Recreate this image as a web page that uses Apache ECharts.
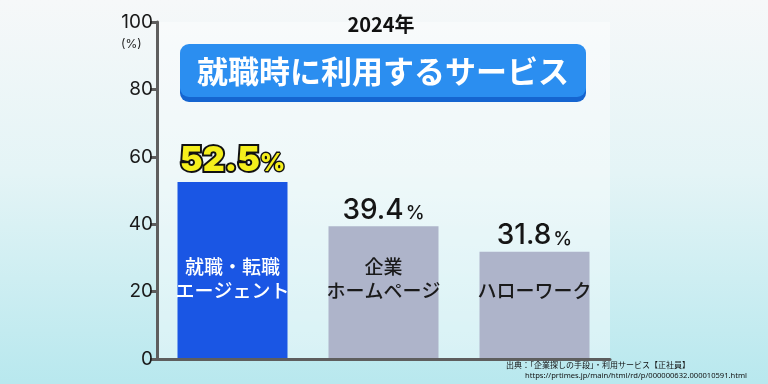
<!DOCTYPE html>
<html><head><meta charset="utf-8">
<script src="https://cdn.jsdelivr.net/npm/echarts@6/dist/echarts.min.js"></script>
<style>html,body{margin:0;padding:0;}#c{width:768px;height:384px;}</style>
</head><body><div id="c"></div>
<script>
const categories = ['就職・転職\nエージェント', '企業\nホームページ', 'ハローワーク'];
const values = [52.5, 39.4, 31.8];
const yTicks = [0, 20, 40, 60, 80, 100];
const yearText = '2024年';
const titleText = '就職時に利用するサービス';
const sourceLine1 = '出典：「企業探しの手段」・利用サービス【正社員】';
const sourceLine2 = 'https://prtimes.jp/main/html/rd/p/000000632.000010591.html';

const JP = '"Noto Sans CJK JP", "Noto Sans", sans-serif';
const chart = echarts.init(document.getElementById('c'));
chart.setOption({
  backgroundColor: new echarts.graphic.LinearGradient(0,0,0,1,[
    {offset:0,color:'#f6f8f9'},{offset:0.45,color:'#e4f4f6'},{offset:1,color:'#b8e8ee'}]),
  grid: {left:157, right:158, top:22, bottom:25, show:true, borderWidth:0,
    backgroundColor:'rgba(255,255,255,0.4)'},
  xAxis: {type:'category', data:categories, z:10,
    axisLine:{show:true, lineStyle:{color:'#5e5e5e', width:3}},
    axisTick:{show:false},
    axisLabel:{inside:true, margin:56, interval:0,
      formatter:(v,i)=> i===0 ? '{w|'+v.split('\n').join('}\n{w|')+'}' : '{d|'+v.split('\n').join('}\n{d|')+'}',
      rich:{
        w:{color:'#ffffff', fontSize:19, fontFamily:JP, fontWeight:500, lineHeight:24},
        d:{color:'#1a1a1a', fontSize:19, fontFamily:JP, fontWeight:500, lineHeight:24}
      }}
  },
  yAxis: {type:'value', min:0, max:100, interval:20, z:10,
    axisLine:{show:true, lineStyle:{color:'#5e5e5e', width:3}},
    axisTick:{show:true, inside:false, length:7, lineStyle:{color:'#5e5e5e', width:3}},
    splitLine:{show:false},
    axisLabel:{color:'#1a1a1a', fontSize:19, fontFamily:'Inter, "Noto Sans", sans-serif', margin:4,
      formatter:v => yTicks.indexOf(v)>=0 ? String(v) : ''}
  },
  series: [{
    type:'bar', barWidth:110,
    data: values.map((v,i)=>({value:v, itemStyle:{color: i===0 ? '#1a56e4' : '#aeb4ca'},
      label: i===0 ? {
        show:true, position:'top', distance:4,
        formatter:'{a|'+v.toFixed(1)+'}{p|%}',
        rich:{
          a:{fontSize:34, fontWeight:900, color:'#f5ef1c', textBorderColor:'#111', textBorderWidth:4, fontFamily:'Inter, Roboto, sans-serif'},
          p:{fontSize:24, fontWeight:900, color:'#f5ef1c', textBorderColor:'#111', textBorderWidth:3, fontFamily:'Inter, Roboto, sans-serif', padding:[6,0,0,0]}
        }
      } : {
        show:true, position:'top', distance:2,
        formatter:'{a|'+v.toFixed(1)+'}{p|%}',
        rich:{
          a:{fontSize:28, fontWeight:500, color:'#151515', fontFamily:'Inter, "Noto Sans", sans-serif'},
          p:{fontSize:19, fontWeight:500, color:'#151515', fontFamily:'Inter, "Noto Sans", sans-serif', padding:[6,0,0,2]}
        }
      }
    }))
  }],
  graphic: [
    {type:'text', left:121, top:38, style:{text:'(%)', fontSize:12, fill:'#222', fontFamily:'Inter, "Noto Sans", sans-serif'}},
    {type:'text', x:381, y:24, style:{text:yearText, fontSize:20, fontWeight:'bold', fill:'#111', align:'center', verticalAlign:'middle', fontFamily:JP}},
    {type:'rect', shape:{x:180, y:48, width:406, height:54, r:9}, style:{fill:'#1565d0'}},
    {type:'rect', shape:{x:180, y:44, width:406, height:53, r:9}, style:{fill:'#2b8ef0'}},
    {type:'text', x:383, y:71, style:{text:titleText, fontSize:31, fontWeight:'bold', fill:'#ffffff', align:'center', verticalAlign:'middle', fontFamily:JP}},
    {type:'text', x:506, y:361, style:{text:sourceLine1, fontSize:8, fill:'#111', fontFamily:JP}},
    {type:'text', x:525, y:372, style:{text:sourceLine2, fontSize:7.6, fill:'#111', fontFamily:'"Noto Sans", sans-serif'}}
  ]
});
</script></body></html>
